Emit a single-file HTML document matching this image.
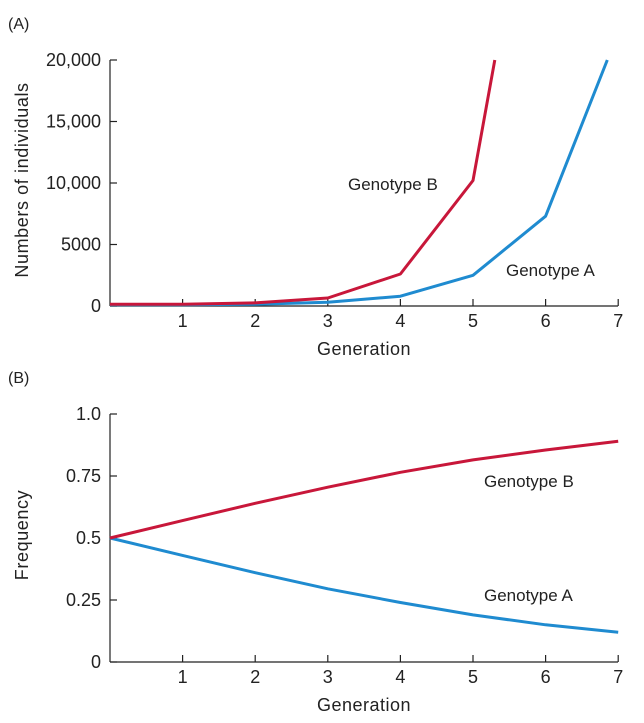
<!DOCTYPE html>
<html><head><meta charset="utf-8"><style>
html,body{margin:0;padding:0;background:#fff;}
svg{display:block;font-family:"Liberation Sans",Arial,sans-serif;}
</style></head><body>
<svg id="c" width="644" height="723"></svg>
<script>
const gens=[0,1,2,3,4,5,6,7];
const numTicksY=[0,5000,10000,15000,20000];
const numTickLabels=["0","5000","10,000","15,000","20,000"];
const numBx=[0,1,2,3,4,5,5.3];
const numB=[150,150,250,650,2600,10200,20000];
const numAx=[0,1,2,3,4,5,6,6.85];
const numA=[100,100,150,300,800,2500,7300,20000];
const freqTicks=[0,0.25,0.5,0.75,1.0];
const freqTickLabels=["0","0.25","0.5","0.75","1.0"];
const freqB=[0.5,0.57,0.64,0.705,0.765,0.815,0.855,0.89];
const freqA=[0.5,0.43,0.36,0.295,0.24,0.19,0.15,0.12];
const NS="http://www.w3.org/2000/svg";
const svg=document.getElementById('c');
function el(t,a,txt){const e=document.createElementNS(NS,t);for(const k in a)e.setAttribute(k,a[k]);if(txt!==undefined)e.textContent=txt;svg.appendChild(e);return e;}
const x=g=>110+g*72.6;
function panel(top,bottom,ymax,ticks,labels,yTitle,series,tag,prefix){
  const y=v=>bottom-(v/ymax)*(bottom-top);
  let e=el('text',{x:8,y:top-31,'font-size':16,fill:'#222'},tag);
  
  e=el('line',{x1:110,y1:top,x2:110,y2:bottom,stroke:'#222','stroke-width':1.2});
  
  e=el('line',{x1:110,y1:bottom,x2:618,y2:bottom,stroke:'#222','stroke-width':1.2});
  
  ticks.forEach((t,i)=>{
    const l=el('line',{x1:110,y1:y(t),x2:117,y2:y(t),stroke:'#222','stroke-width':1.2});
    
    const tx=el('text',{x:101,y:y(t)+6,'text-anchor':'end','font-size':18,fill:'#222'},labels[i]);
    
  });
  gens.slice(1).forEach(g=>{
    const l=el('line',{x1:x(g),y1:bottom,x2:x(g),y2:bottom-7,stroke:'#222','stroke-width':1.2});
    
    const tx=el('text',{x:x(g),y:bottom+21,'text-anchor':'middle','font-size':18,fill:'#222'},String(g));
    
  });
  e=el('text',{x:364,y:bottom+49,'text-anchor':'middle','font-size':18,fill:'#222','letter-spacing':0.5},'Generation');
  
  const cy=(top+bottom)/2-3;
  e=el('text',{x:28,y:cy,'text-anchor':'middle','font-size':18,fill:'#222','letter-spacing':0.6,transform:`rotate(-90 28 ${cy})`},yTitle);
  
  series.forEach(s=>{
    const d=s.xs.map((g,i)=>(i?'L':'M')+x(g).toFixed(1)+','+y(s.vs[i]).toFixed(1)).join(' ');
    const p=el('path',{d:d,fill:'none',stroke:s.c,'stroke-width':3,'stroke-linejoin':'round'});
    
    const t=el('text',{x:s.lx,y:s.ly,'font-size':17,fill:'#222'},s.label);
    
  });
}
panel(60,306,20000,numTicksY,numTickLabels,'Numbers of individuals',[
  {xs:numAx,vs:numA,c:'#1f8bd0',name:'genotype-a-count-line',label:'Genotype A',lx:506,ly:276},
  {xs:numBx,vs:numB,c:'#c8173a',name:'genotype-b-count-line',label:'Genotype B',lx:348,ly:190}
],'(A)','top');
panel(414,662,1.0,freqTicks,freqTickLabels,'Frequency',[
  {xs:gens,vs:freqA,c:'#1f8bd0',name:'genotype-a-frequency-line',label:'Genotype A',lx:484,ly:601},
  {xs:gens,vs:freqB,c:'#c8173a',name:'genotype-b-frequency-line',label:'Genotype B',lx:484,ly:487}
],'(B)','bottom');
</script>
</body></html>
